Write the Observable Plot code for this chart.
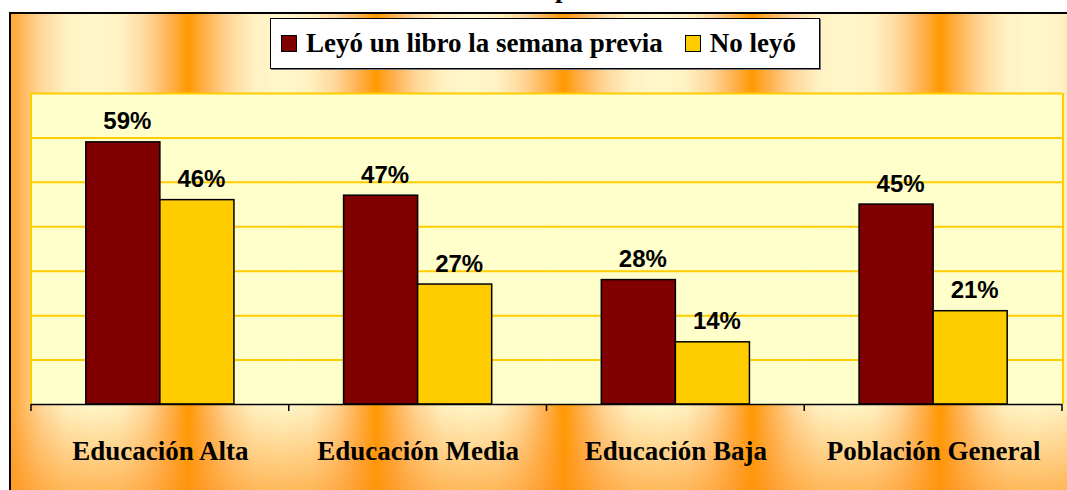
<!DOCTYPE html>
<html>
<head>
<meta charset="utf-8">
<script src="https://cdn.jsdelivr.net/npm/d3@7"></script>
<script src="https://cdn.jsdelivr.net/npm/@observablehq/plot@0.6"></script>
<style>
  html, body { margin:0; padding:0; background:#fff; width:1067px; height:490px; overflow:hidden; }
  #title { position:absolute; left:555px; top:-25px; font:bold 27px "Liberation Serif", serif; line-height:27px; color:#000; }
  #frame { position:absolute; left:9px; top:12px; width:1100px; height:520px; box-sizing:border-box; border:2px solid #000;
    background:
      linear-gradient(to bottom, rgba(255,150,30,0) 0px, rgba(255,150,30,0) 390px, rgba(255,145,20,0.62) 478px),
      repeating-linear-gradient(90deg, #FF9900 0px, #FFAE48 16px, #FFD596 40px, #FFF1C2 66px, #FFF7CA 94px, #FFF1C2 122px, #FFD596 148px, #FFAE48 172px, #FF9900 188px);
    background-position: 0 0, -11px 0;
  }
  #plotbg { position:absolute; left:30px; top:93px; width:1034px; height:311px; box-sizing:border-box; background:#FFFFCC;
    border-left:2px solid #FFCC00; border-right:2px solid #FFCC00; }
  #legend { position:absolute; left:270px; top:18px; width:550px; height:51px; box-sizing:border-box; background:#fff;
    border:1.5px solid #000; box-shadow:1px 1px 0 #777; display:flex; align-items:center; justify-content:flex-start;
    padding-left:10px; font:bold 27px "Liberation Serif", serif; color:#000; }
  .item { display:flex; align-items:center; }
  .item + .item { margin-left:22px; }
  .sw { width:16px; height:17px; box-sizing:border-box; border:1.5px solid #000; margin-right:9px; flex:none; }
  #chart { position:absolute; left:0; top:80px; }
</style>
</head>
<body>
<div id="title">p</div>
<div id="frame"></div>
<div id="plotbg"></div>
<div id="legend"></div>
<div id="chart"></div>
<script>
const categories = ["Educación Alta", "Educación Media", "Educación Baja", "Población General"];
const series = ["Leyó un libro la semana previa", "No leyó"];
const leyo = [59, 47, 28, 45];
const noLeyo = [46, 27, 14, 21];
const seriesColors = ["#800000", "#FFCC00"];
const gridTicks = [10, 20, 30, 40, 50, 60, 70];

const data = categories.flatMap((c, i) => [
  {cat: c, series: series[0], value: leyo[i]},
  {cat: c, series: series[1], value: noLeyo[i]}
]);

// legend
const legend = document.getElementById("legend");
series.forEach((s, i) => {
  const it = document.createElement("div"); it.className = "item";
  const sw = document.createElement("div"); sw.className = "sw"; sw.style.background = seriesColors[i];
  const tx = document.createElement("span"); tx.textContent = s;
  it.appendChild(sw); it.appendChild(tx); legend.appendChild(it);
});

const edgeTicks = Plot.frame({
  facet: "super",
  stroke: "none",
  render(index, scales, values, dims) {
    const fx = scales.fx;
    const bw = typeof fx.bandwidth === "function" ? fx.bandwidth() : (dims.width - dims.marginLeft - dims.marginRight) / categories.length;
    const xs = categories.map(c => fx(c)).concat([fx(categories[categories.length - 1]) + bw]);
    const y0 = scales.y(0);
    const g = d3.create("svg:g");
    g.selectAll("line").data(xs).join("line")
      .attr("x1", d => d).attr("x2", d => d)
      .attr("y1", y0).attr("y2", y0 + 7)
      .attr("stroke", "#000").attr("stroke-width", 1.5);
    return g.node();
  }
});

const plot = Plot.plot({
  width: 1067,
  height: 410,
  marginLeft: 31,
  marginRight: 5,
  marginTop: 13,
  marginBottom: 86,
  style: {background: "transparent", overflow: "visible", color: "#000"},
  fx: {domain: categories, padding: 0, round: false, axis: null},
  x: {domain: series, paddingInner: 0, paddingOuter: 0.74, round: false, axis: null},
  y: {domain: [0, 70], axis: null},
  color: {domain: series, range: seriesColors},
  marks: [
    Plot.ruleY(gridTicks, {stroke: "#FFCC00", strokeWidth: 2}),
    Plot.barY(data, {fx: "cat", x: "series", y: "value", fill: "series", stroke: "#000", strokeWidth: 1.5}),
    Plot.text(data, {fx: "cat", x: "series", y: "value", text: d => d.value + "%", dy: -13, dx: 4,
      lineAnchor: "bottom", fontSize: 24, fontWeight: "bold", fontFamily: "Liberation Sans, Arial, sans-serif", fill: "#000"}),
    Plot.ruleY([0], {stroke: "#000", strokeWidth: 1.5}),
    edgeTicks,
    Plot.axisFx({anchor: "bottom", tickSize: 0, tickPadding: 36, fontSize: 27, fontWeight: "bold",
      fontFamily: "Liberation Serif, serif", label: null})
  ]
});
document.getElementById("chart").appendChild(plot);
</script>
</body>
</html>
